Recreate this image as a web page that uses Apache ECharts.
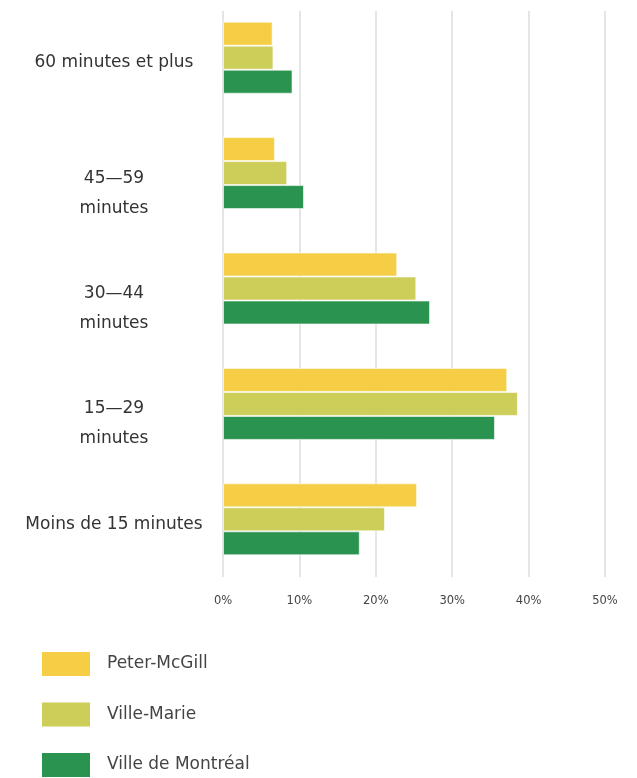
<!DOCTYPE html>
<html>
<head>
<meta charset="utf-8">
<script src="https://cdn.jsdelivr.net/npm/echarts@6/dist/echarts.min.js"></script>
<style>
html,body{margin:0;padding:0;background:#fff;}
#chart{width:637px;height:778px;}
</style>
</head>
<body>
<div id="chart"></div>
<script>
const categories = ['60 minutes et plus', '45—59\nminutes', '30—44\nminutes', '15—29\nminutes', 'Moins de 15 minutes'];
const seriesNames = ['Peter-McGill', 'Ville-Marie', 'Ville de Montréal'];
const peterMcGill = [6.5, 6.8, 22.8, 37.2, 25.4];
const villeMarie = [6.6, 8.4, 25.3, 38.6, 21.2];
const villeMontreal = [9.1, 10.6, 27.1, 35.6, 17.9];
const xTicks = [0, 10, 20, 30, 40, 50];

const colors = ['#F5CE45', '#CDCD5A', '#2A9350'];
const values = [peterMcGill, villeMarie, villeMontreal];
const FONT = 'DejaVu Sans';

const chart = echarts.init(document.getElementById('chart'));
chart.setOption({
  animation: false,
  backgroundColor: '#fff',
  textStyle: { fontFamily: FONT },
  grid: { left: 223, right: 32, top: -2, bottom: 201, containLabel: false },
  xAxis: {
    type: 'value',
    min: xTicks[0],
    max: xTicks[xTicks.length - 1],
    interval: 10,
    axisLine: { show: false },
    axisTick: { show: false },
    splitLine: { show: true, lineStyle: { color: '#dcdcdc', width: 1.5 } },
    axisLabel: { formatter: '{value}%', color: '#444', fontSize: 11.5, margin: 18, fontFamily: FONT }
  },
  yAxis: {
    type: 'category',
    inverse: true,
    data: categories,
    axisLine: { show: false },
    axisTick: { show: false },
    axisLabel: {
      align: 'center',
      verticalAlign: 'top',
      margin: 109,
      formatter: function (v) {
        const parts = v.split('\n');
        if (parts.length === 1) return '{a|' + parts[0] + '}';
        return '{a|' + parts[0] + '}\n{b|' + parts[1] + '}';
      },
      rich: {
        a: { fontSize: 17, color: '#333', lineHeight: 10, fontFamily: FONT, align: 'center' },
        b: { fontSize: 17, color: '#333', lineHeight: 50, fontFamily: FONT, align: 'center' }
      }
    }
  },
  legend: {
    orient: 'vertical',
    left: 42,
    top: 652,
    height: 200,
    padding: 0,
    itemWidth: 48,
    itemHeight: 24,
    itemGap: 26.5,
    icon: 'rect',
    itemStyle: { borderWidth: 0 },
    data: seriesNames,
    textStyle: { fontSize: 17, color: '#444', fontFamily: FONT, padding: [0, 0, 0, 12] }
  },
  series: seriesNames.map((name, i) => ({
    name: name,
    type: 'bar',
    data: values[i],
    barWidth: 24,
    barGap: '0%',
    itemStyle: { color: colors[i], borderColor: 'rgba(255,255,255,0.6)', borderWidth: 1 }
  })),
  graphic: [{
    type: 'rect',
    shape: { x: 0, y: 0, width: 637, height: 11 },
    style: { fill: '#fff' },
    z: 100
  }]
});
</script>
</body>
</html>
